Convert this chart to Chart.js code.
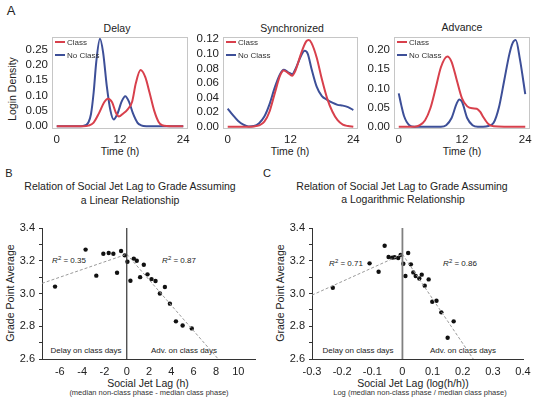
<!DOCTYPE html>
<html>
<head>
<meta charset="utf-8">
<script src="https://cdn.jsdelivr.net/npm/chart.js@4.4.1/dist/chart.umd.min.js"></script>
<style>
  body { margin: 0; background: #fff; width: 535px; height: 403px; position: relative; overflow: hidden;
         font-family: "Liberation Sans", Arial, sans-serif; color: #222; }
  .t { position: absolute; white-space: nowrap; transform: translate(-50%, -50%); line-height: 1; }
  .v { transform: translate(-50%, -50%) rotate(-90deg); }
  canvas { position: absolute; }
</style>
</head>
<body>
<div class="t" style="left:11px;top:10px;font-size:13px">A</div>
<div class="t" style="left:117px;top:28px;font-size:10.5px">Delay</div>
<div class="t" style="left:292px;top:28px;font-size:10.5px">Synchronized</div>
<div class="t" style="left:462px;top:27px;font-size:10.5px">Advance</div>
<div class="t v" style="left:12px;top:89px;font-size:10.5px">Login Density</div>
<div class="t" style="left:120px;top:151px;font-size:10.5px">Time (h)</div>
<div class="t" style="left:290px;top:151px;font-size:10.5px">Time (h)</div>
<div class="t" style="left:462px;top:151px;font-size:10.5px">Time (h)</div>

<div class="t" style="left:9px;top:173px;font-size:11px">B</div>
<div class="t" style="left:267px;top:173px;font-size:11px">C</div>
<div class="t" style="left:130px;top:186px;font-size:10.5px">Relation of Social Jet Lag to Grade Assuming</div>
<div class="t" style="left:130px;top:200px;font-size:10.5px">a Linear Relationship</div>
<div class="t" style="left:402px;top:186px;font-size:10.5px">Relation of Social Jet Lag to Grade Assuming</div>
<div class="t" style="left:403px;top:199px;font-size:10.5px">a Logarithmic Relationship</div>
<div class="t v" style="left:10px;top:293px;font-size:10.5px">Grade Point Average</div>
<div class="t v" style="left:280px;top:293px;font-size:10.5px">Grade Point Average</div>
<div class="t" style="left:148px;top:383px;font-size:10.5px">Social Jet Lag (h)</div>
<div class="t" style="left:149px;top:393px;font-size:7.5px;color:#333">(median non-class phase - median class phase)</div>
<div class="t" style="left:413px;top:383px;font-size:10.5px">Social Jet Lag (log(h/h))</div>
<div class="t" style="left:420px;top:393px;font-size:7.5px;color:#333">Log (median non-class phase / median class phase)</div>
<div class="t" style="left:69px;top:260px;font-size:8px"><i>R</i><sup style="font-size:6px">2</sup> = 0.35</div>
<div class="t" style="left:179px;top:260px;font-size:8px"><i>R</i><sup style="font-size:6px">2</sup> = 0.87</div>
<div class="t" style="left:346px;top:263px;font-size:8px"><i>R</i><sup style="font-size:6px">2</sup> = 0.71</div>
<div class="t" style="left:460px;top:263px;font-size:8px"><i>R</i><sup style="font-size:6px">2</sup> = 0.86</div>
<div class="t" style="left:86px;top:351px;font-size:8px">Delay on class days</div>
<div class="t" style="left:184px;top:351px;font-size:8px">Adv. on class days</div>
<div class="t" style="left:358px;top:351px;font-size:8px">Delay on class days</div>
<div class="t" style="left:463px;top:351px;font-size:8px">Adv. on class days</div>

<canvas id="delayChart"></canvas>
<canvas id="syncChart"></canvas>
<canvas id="advanceChart"></canvas>
<canvas id="linearChart"></canvas>
<canvas id="logChart"></canvas>

<script>
// Panel A: login density curves (hour, density)
const delayClassT = [0, 2, 4, 5, 6, 7, 8, 9, 9.7, 10.5, 11.2, 11.8, 12.5, 13.5, 14.3, 15, 15.9, 16.8, 17.6, 18.5, 19.3, 20, 22, 24];
const delayClassY = [0, 0, 0, 0, 0.002, 0.012, 0.042, 0.078, 0.09, 0.078, 0.045, 0.032, 0.04, 0.056, 0.08, 0.14, 0.183, 0.16, 0.11, 0.05, 0.015, 0.003, 0, 0];
const delayNoClassT = [0, 4, 5, 6, 6.5, 7, 7.5, 8.2, 8.8, 9.5, 10.2, 10.8, 11.5, 12.3, 13, 13.7, 14.5, 15.3, 16, 17, 24];
const delayNoClassY = [0, 0, 0.001, 0.012, 0.04, 0.11, 0.21, 0.285, 0.24, 0.13, 0.05, 0.022, 0.04, 0.08, 0.098, 0.08, 0.04, 0.012, 0.003, 0, 0];

const syncClassT = [0, 2, 4, 5, 6, 7, 8, 9, 10, 10.7, 11.5, 12.3, 13, 14, 15, 15.5, 16, 17, 18, 19, 20, 21, 22, 23, 24];
const syncClassY = [0, 0, 0, 0.0005, 0.002, 0.007, 0.021, 0.046, 0.07, 0.077, 0.074, 0.07, 0.078, 0.1, 0.117, 0.119, 0.115, 0.095, 0.065, 0.039, 0.021, 0.009, 0.003, 0.001, 0];
const syncNoClassT = [0, 1, 2, 3, 4, 5, 6, 7, 8, 9, 10, 10.7, 11.5, 12.3, 13, 14, 14.7, 15.3, 16, 17, 18, 19, 20, 21, 22, 23, 24];
const syncNoClassY = [0.025, 0.016, 0.008, 0.003, 0.0005, 0.001, 0.005, 0.014, 0.031, 0.054, 0.072, 0.078, 0.075, 0.072, 0.08, 0.097, 0.104, 0.1, 0.08, 0.055, 0.042, 0.037, 0.033, 0.03, 0.029, 0.027, 0.023];

const advClassT = [0, 2, 3, 4, 5, 6, 7, 8, 9.2, 10, 11, 12, 13, 14, 14.8, 15.5, 16, 17, 18, 20, 24];
const advClassY = [0, 0, 0, 0.004, 0.017, 0.048, 0.1, 0.155, 0.183, 0.17, 0.122, 0.074, 0.053, 0.048, 0.047, 0.038, 0.026, 0.007, 0.001, 0, 0];
const advNoClassT = [0, 0.5, 1, 2, 3, 8, 9, 10, 11, 11.5, 12, 13, 14, 15, 16, 17, 18, 19, 20, 21, 21.6, 22.2, 23, 24];
const advNoClassY = [0.087, 0.055, 0.028, 0.004, 0, 0, 0.004, 0.022, 0.061, 0.071, 0.065, 0.022, 0.004, 0, 0, 0.002, 0.01, 0.05, 0.12, 0.19, 0.218, 0.226, 0.175, 0.085];

const hourTicks = [0, 12, 24];
const delayTicks = [0, 0.05, 0.1, 0.15, 0.2, 0.25];
const syncTicks = [0, 0.02, 0.04, 0.06, 0.08, 0.1, 0.12];
const advTicks = [0, 0.05, 0.1, 0.15, 0.2];

// Panels B and C: social jet lag vs GPA
const linearLag = [-6.43, -3.69, -2.73, -2.1, -1.62, -1.2, -0.87, -0.51, -0.18, 0.06, 0.33, 0.63, 0.9, 1.2, 1.53, 1.86, 2.22, 2.58, 2.97, 3.42, 3.87, 4.41, 5.01, 5.83];
const linearGpa = [3.042, 3.268, 3.109, 3.243, 3.247, 3.243, 3.127, 3.26, 3.233, 3.194, 3.078, 3.213, 3.2, 3.1, 3.176, 3.117, 3.088, 3.076, 3.0, 3.04, 2.938, 2.83, 2.805, 2.787];
const linearFitDelayX = [-7.6, 0];
const linearFitDelayY = [3.062, 3.24];
const linearFitAdvX = [0, 8.2];
const linearFitAdvY = [3.24, 2.6];

const logLag = [-0.231, -0.109, -0.079, -0.059, -0.046, -0.034, -0.026, -0.014, -0.006, 0.003, 0.01, 0.019, 0.028, 0.036, 0.044, 0.056, 0.064, 0.074, 0.087, 0.099, 0.113, 0.129, 0.15, 0.17];
const logGpa = [3.035, 3.184, 3.133, 3.292, 3.223, 3.219, 3.221, 3.217, 3.235, 3.182, 3.107, 3.247, 3.178, 3.129, 3.107, 3.092, 3.115, 3.048, 3.086, 2.95, 2.956, 2.885, 2.73, 2.83];
const logFitDelayX = [-0.3, 0];
const logFitDelayY = [2.99, 3.24];
const logFitAdvX = [0, 0.235];
const logFitAdvY = [3.24, 2.6];

const linearTicks = [-6, -4, -2, 0, 2, 4, 6, 8, 10];
const logTicks = [-0.3, -0.2, -0.1, 0, 0.1, 0.2, 0.3, 0.4];
const gpaTicks = [2.6, 2.7, 2.8, 2.9, 3.0, 3.1, 3.2, 3.3, 3.4];

const RED = "#d8404c";
const BLUE = "#3d4f98";
const FONT = "'Liberation Sans', Arial, sans-serif";

const pts = (xs, ys) => xs.map((x, i) => ({ x, y: ys[i] }));

// place a canvas so that the chart area lands on the given box
function place(id, box, m) {
  const c = document.getElementById(id);
  const w = box.right - box.left + m.l + m.r;
  const h = box.bottom - box.top + m.t + m.b;
  c.width = w;
  c.height = h;
  c.style.width = w + "px";
  c.style.height = h + "px";
  c.style.left = box.left - m.l + "px";
  c.style.top = box.top - m.t + "px";
  return c;
}

function fixedX(h, values) {
  return {
    afterBuildTicks: (s) => { s.ticks = values.map((v) => ({ value: v })); },
    afterFit: (s) => { s.height = h; s.paddingLeft = 0; s.paddingRight = 0; },
  };
}
function fixedY(w, values) {
  return {
    afterBuildTicks: (s) => { s.ticks = values.map((v) => ({ value: v })); },
    afterFit: (s) => { s.width = w; s.paddingTop = 0; s.paddingBottom = 0; },
  };
}

const framePlugin = {
  id: "frame",
  afterDatasetsDraw(chart) {
    const a = chart.chartArea, ctx = chart.ctx;
    ctx.save();
    ctx.strokeStyle = "#c6c6c6";
    ctx.lineWidth = 1;
    ctx.strokeRect(a.left + 0.5, a.top + 0.5, a.right - a.left - 1, a.bottom - a.top - 1);
    ctx.restore();
  },
};

const insideLegend = {
  id: "insideLegend",
  afterDatasetsDraw(chart) {
    const a = chart.chartArea, ctx = chart.ctx;
    ctx.save();
    ctx.font = "8px " + FONT;
    ctx.textBaseline = "middle";
    chart.data.datasets.forEach((ds, i) => {
      const y = a.top + 5 + i * 13;
      ctx.strokeStyle = ds.borderColor;
      ctx.lineWidth = 2;
      ctx.beginPath();
      ctx.moveTo(a.left + 3, y);
      ctx.lineTo(a.left + 13, y);
      ctx.stroke();
      ctx.fillStyle = "#333";
      ctx.fillText(ds.label, a.left + 15, y + 0.5);
    });
    ctx.restore();
  },
};

function densityChart(id, box, yMin, yMax, yTicks, cls, noCls) {
  const m = { l: 42, r: 4, t: 4, b: 28 };
  const canvas = place(id, box, m);
  return new Chart(canvas, {
    type: "line",
    data: {
      datasets: [
        { label: "Class", data: cls, borderColor: RED, borderWidth: 2, pointRadius: 0, cubicInterpolationMode: "monotone" },
        { label: "No Class", data: noCls, borderColor: BLUE, borderWidth: 2, pointRadius: 0, cubicInterpolationMode: "monotone" },
      ],
    },
    options: {
      responsive: false,
      animation: false,
      events: [],
      layout: { padding: { left: 0, right: m.r, top: m.t, bottom: 0 } },
      plugins: { legend: { display: false }, tooltip: { enabled: false } },
      scales: {
        x: {
          type: "linear", min: -0.9, max: 24.9,
          grid: { display: false, drawTicks: false },
          border: { display: false },
          ticks: { color: "#222", padding: 4, autoSkip: false, font: { size: 11.5, family: FONT }, maxRotation: 0, callback: (v) => String(v) },
          ...fixedX(m.b, hourTicks),
        },
        y: {
          min: yMin, max: yMax,
          grid: { display: false, drawTicks: false },
          border: { display: false },
          ticks: { color: "#222", padding: 4, autoSkip: false, font: { size: 11.5, family: FONT }, callback: (v) => v.toFixed(2) },
          ...fixedY(m.l, yTicks),
        },
      },
    },
    plugins: [framePlugin, insideLegend],
  });
}

densityChart("delayChart", { left: 52, top: 37, right: 188, bottom: 129 }, -0.009, 0.291, delayTicks,
  pts(delayClassT, delayClassY), pts(delayNoClassT, delayNoClassY));
densityChart("syncChart", { left: 223, top: 37, right: 358, bottom: 129 }, -0.003, 0.123, syncTicks,
  pts(syncClassT, syncClassY), pts(syncNoClassT, syncNoClassY));
densityChart("advanceChart", { left: 394, top: 37, right: 530, bottom: 129 }, -0.006, 0.234, advTicks,
  pts(advClassT, advClassY), pts(advNoClassT, advNoClassY));

function gpaChart(id, box, xMin, xMax, xTicks, xFmt, lag, gpa, fitA, fitB, zeroColor, zeroWidth) {
  const m = { l: 40, r: 10, t: 8, b: 22 };
  const canvas = place(id, box, m);
  const fitStyle = { type: "line", borderColor: "#9a9a9a", borderWidth: 1, borderDash: [3, 2], pointRadius: 0, fill: false };
  return new Chart(canvas, {
    type: "scatter",
    data: {
      datasets: [
        { type: "line", data: pts([0, 0], [2.6, 3.4]), borderColor: zeroColor, borderWidth: zeroWidth, pointRadius: 0 },
        { ...fitStyle, data: fitA },
        { ...fitStyle, data: fitB },
        { data: pts(lag, gpa), backgroundColor: "#111", borderWidth: 0, pointRadius: 2.2 },
      ],
    },
    options: {
      responsive: false,
      animation: false,
      events: [],
      clip: false,
      layout: { padding: { left: 0, right: m.r, top: m.t, bottom: 0 } },
      plugins: { legend: { display: false }, tooltip: { enabled: false } },
      scales: {
        x: {
          type: "linear", min: xMin, max: xMax,
          grid: { display: false, drawTicks: false },
          border: { display: true, color: "#333", width: 1 },
          ticks: { color: "#222", padding: 6, autoSkip: false, font: { size: 11, family: FONT }, maxRotation: 0, callback: xFmt },
          ...fixedX(m.b, xTicks),
        },
        y: {
          min: 2.6, max: 3.4,
          grid: { display: true, drawOnChartArea: false, drawTicks: true, tickLength: 3, color: "#333" },
          border: { display: true, color: "#333", width: 1 },
          ticks: {
            color: "#222", padding: 4, autoSkip: false, font: { size: 11, family: FONT },
            callback: (v) => (Math.round(v * 10) % 2 === 0 ? v.toFixed(1) : ""),
          },
          ...fixedY(m.l, gpaTicks),
        },
      },
    },
  });
}

gpaChart("linearChart", { left: 42, top: 228, right: 255, bottom: 359 }, -7.6, 11.5, linearTicks,
  (v) => String(v), linearLag, linearGpa,
  pts(linearFitDelayX, linearFitDelayY), pts(linearFitAdvX, linearFitAdvY), "#333", 1.2);
gpaChart("logChart", { left: 312, top: 228, right: 523, bottom: 359 }, -0.3, 0.4, logTicks,
  (v) => (Math.abs(v) < 1e-9 ? "0" : v.toFixed(1)), logLag, logGpa,
  pts(logFitDelayX, logFitDelayY), pts(logFitAdvX, logFitAdvY), "#808080", 1.8);
</script>
</body>
</html>
